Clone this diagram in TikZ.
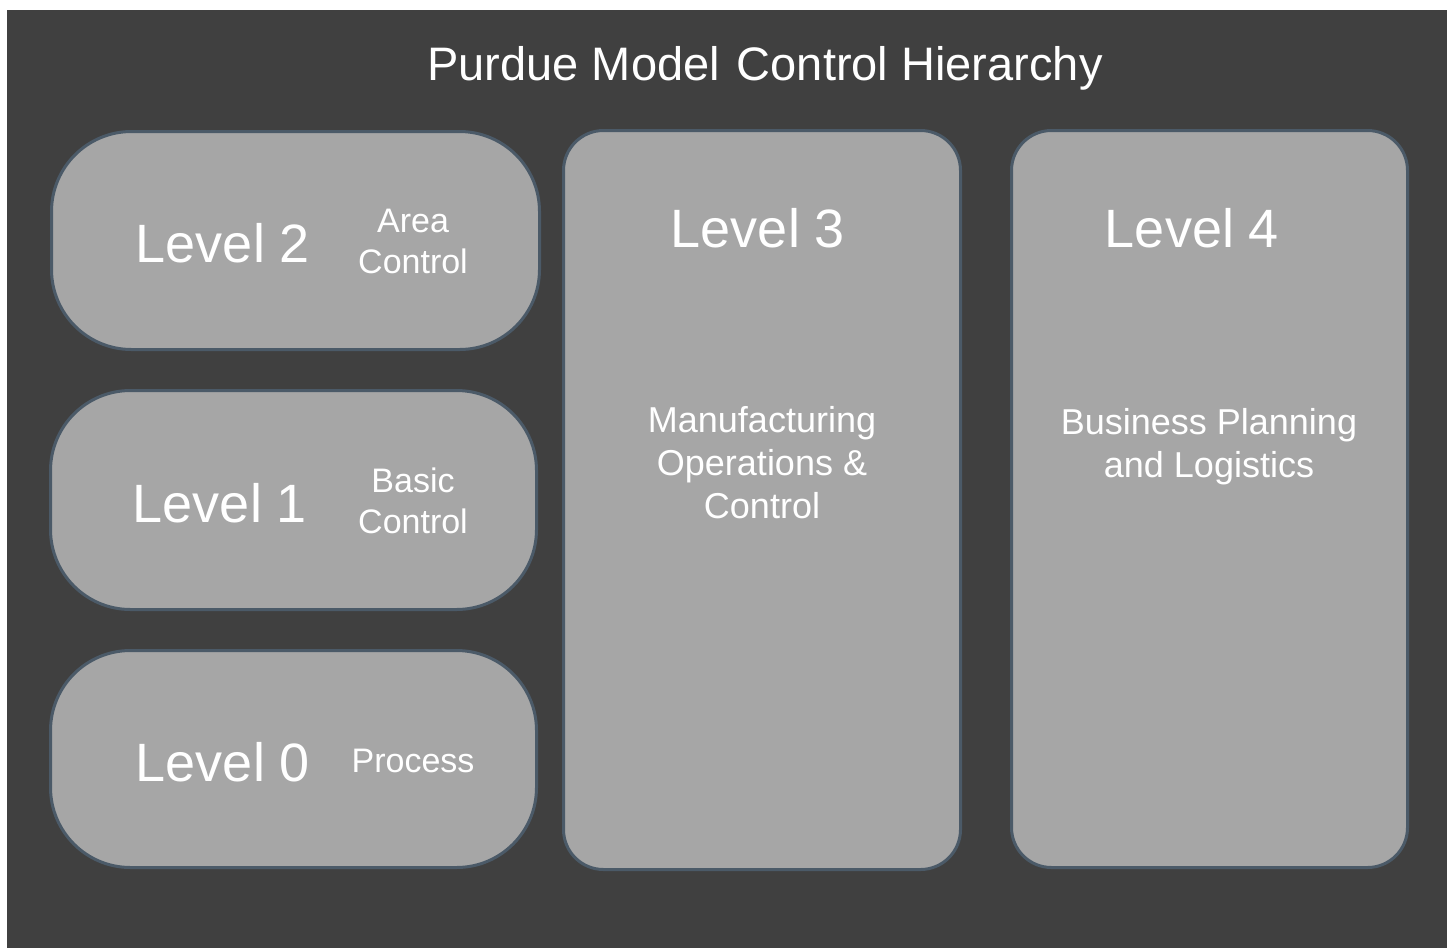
\documentclass[tikz,border=0pt]{standalone}
\usepackage{fontspec}
\setmainfont{Liberation Sans}
\definecolor{bgc}{HTML}{404040}
\definecolor{boxc}{HTML}{A6A6A6}
\definecolor{edgec}{HTML}{4B5A68}
\newcommand\titlesz{\fontsize{47}{52}\selectfont}
\newcommand\levsz{\fontsize{54}{60}\selectfont}
\newcommand\subsz{\fontsize{34}{41}\selectfont}
\newcommand\descsz{\fontsize{36}{43}\selectfont}
\begin{document}
\begin{tikzpicture}[x=1pt,y=-1pt,
    lvl/.style={draw=edgec, line width=3pt, fill=boxc, inner sep=0pt},
    txt/.style={text=white, anchor=base, align=center, inner sep=0pt}]
    \useasboundingbox (0,0) rectangle (1450,948);
    \fill[white] (0,0) rectangle (1450,948);
    \fill[bgc] (7,10) rectangle (1447,948);
    \node[txt, font=\titlesz] (title) at (765,80) {Purdue Model\kern4pt{} Control Hierarchy};
    % left column: levels 0 to 2
    \node[lvl, rounded corners=80pt, minimum width=488pt, minimum height=218pt] (box2) at (295.5,240.5) {};
    \node[lvl, rounded corners=80pt, minimum width=486pt, minimum height=219pt] (box1) at (293.5,500) {};
    \node[lvl, rounded corners=80pt, minimum width=486pt, minimum height=217pt] (box0) at (293.5,759) {};
    \node[txt, font=\levsz] (lev2) at (223,262) {Level 2};
    \node[txt, font=\subsz] (area) at (413,273) {Area\\Control};
    \node[txt, font=\levsz] (lev1) at (220,522) {Level 1};
    \node[txt, font=\subsz] (basic) at (413,533) {Basic\\Control};
    \node[txt, font=\levsz] (lev0) at (223,781) {Level 0};
    \node[txt, font=\subsz] (proc) at (413,772) {Process};
    % level 3
    \node[lvl, rounded corners=40pt, minimum width=397pt, minimum height=739pt] (box3) at (762,500) {};
    \node[txt, font=\levsz] (lev3) at (758,247) {Level 3};
    \node[txt, font=\descsz] (manu) at (762,518) {Manufacturing\\Operations \&\\Control};
    % level 4
    \node[lvl, rounded corners=40pt, minimum width=396pt, minimum height=737pt] (box4) at (1209.5,499) {};
    \node[txt, font=\levsz] (lev4) at (1192,247) {Level 4};
    \node[txt, font=\descsz] (biz) at (1209,477) {Business Planning\\and Logistics};
\end{tikzpicture}
\end{document}
